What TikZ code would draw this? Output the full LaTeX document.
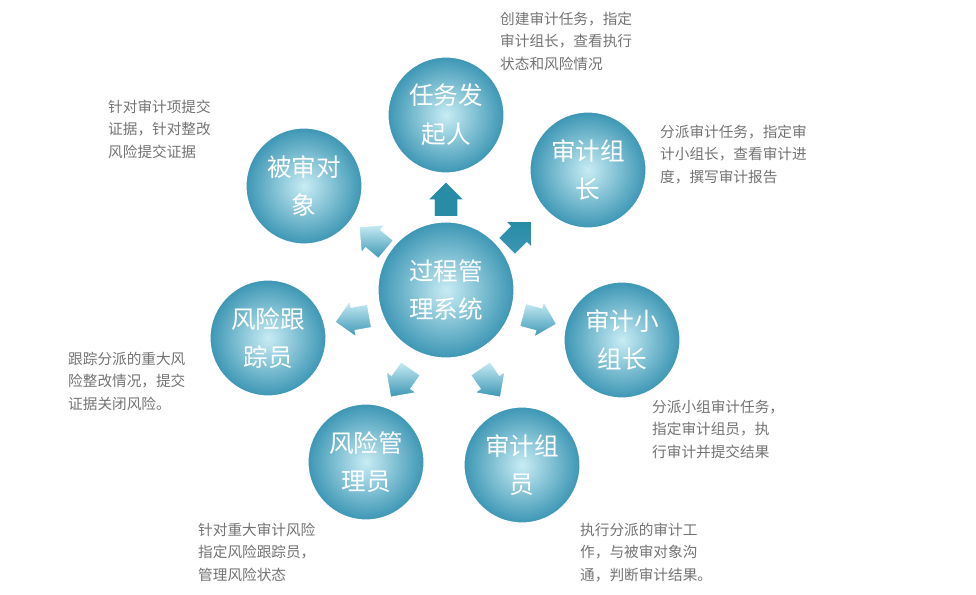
\documentclass[tikz,border=0pt]{standalone}
\usepackage{fontspec}
\setmainfont{Noto Sans CJK SC}
\usetikzlibrary{shapes.arrows}

\definecolor{ballrim}{RGB}{60,150,180}
\definecolor{ballcore}{RGB}{200,236,244}
\definecolor{arrowdark}{RGB}{40,140,165}

\tikzset{
  ball/.style={circle, minimum size=3.5cm, draw=white, line width=1.5pt,
    inner color=ballcore, outer color=ballrim,
    text=white, align=center, font=\fontsize{21}{33}\selectfont},
  hub/.style={ball, minimum size=4.1cm},
  note/.style={anchor=north west, align=left, text=black!55,
    inner sep=0pt, font=\fontsize{12.5}{19}\selectfont},
  push/.style={single arrow, minimum height=1.05cm, minimum width=1.1cm,
    single arrow head extend=0.12cm, inner xsep=0.05cm, inner ysep=0.2cm,
    draw=white, line width=0.8pt,
    top color=ballcore, bottom color=ballrim}
}

\begin{document}
\begin{tikzpicture}[x=0.03cm, y=-0.03cm]
  \useasboundingbox (0,0) rectangle (976,595);

  % hub and roles
  \node[hub] (core) at (446,290) {过程管\\理系统};
  \node[ball] (issuer) at (446,115) {任务发\\起人};
  \node[ball] (leader) at (588,170) {审计组\\长};
  \node[ball] (subleader) at (622,340) {审计小\\组长};
  \node[ball] (member) at (522,465) {审计组\\员};
  \node[ball] (riskmgr) at (366,462) {风险管\\理员};
  \node[ball] (tracker) at (268,338) {风险跟\\踪员};
  \node[ball] (auditee) at (304,186) {被审对\\象};

  % arrows out of the hub
  \node[push, rotate=90, top color=arrowdark, bottom color=arrowdark] (toissuer) at (446,205) {};
  \node[push, rotate=45, top color=arrowdark, bottom color=ballrim] (toleader) at (515,238) {};
  \node[push, rotate=-15] (tosub) at (534,318) {};
  \node[push, rotate=-55] (tomember) at (487,378) {};
  \node[push, rotate=-125] (toriskmgr) at (404,378) {};
  \node[push, rotate=-170] (totracker) at (358,318) {};
  \node[push, rotate=140] (toauditee) at (377,242) {};

  % notes
  \node[note] (nissuer) at (500,12) {创建审计任务，指定\\审计组长，查看执行\\状态和风险情况};
  \node[note] (nleader) at (660,125) {分派审计任务，指定审\\计小组长，查看审计进\\度，撰写审计报告};
  \node[note] (nsub) at (652,400) {分派小组审计任务，\\指定审计组员，执\\行审计并提交结果};
  \node[note] (nmember) at (580,523) {执行分派的审计工\\作，与被审对象沟\\通，判断审计结果。};
  \node[note] (nriskmgr) at (198,523) {针对重大审计风险\\指定风险跟踪员，\\管理风险状态};
  \node[note] (ntracker) at (68,352) {跟踪分派的重大风\\险整改情况，提交\\证据关闭风险。};
  \node[note] (nauditee) at (108,100) {针对审计项提交\\证据，针对整改\\风险提交证据};
\end{tikzpicture}
\end{document}
